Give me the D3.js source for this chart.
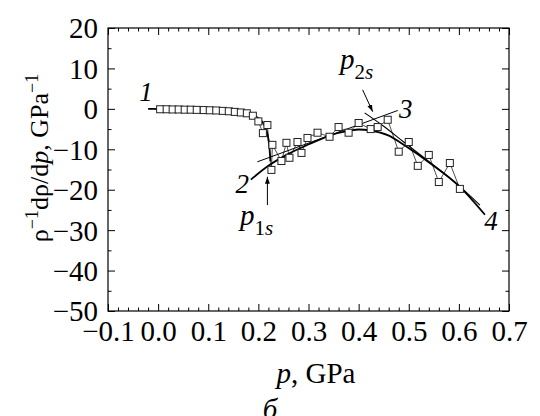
<!DOCTYPE html>
<html>
<head>
<meta charset="utf-8">
<script src="https://cdn.jsdelivr.net/npm/d3@7"></script>
<style>
  html, body { margin: 0; padding: 0; background: #fff; }
  svg { display: block; }
  text { font-family: "Liberation Serif", "Times New Roman", serif; fill: #000; }
</style>
</head>
<body>
<svg id="chart" width="540" height="416"></svg>
<script>
// ---- axis ticks ----
const xTicks = [-0.1, 0.0, 0.1, 0.2, 0.3, 0.4, 0.5, 0.6, 0.7];
const yTicks = [20, 10, 0, -10, -20, -30, -40, -50];

// ---- measured data, phase 1 (squares) ----
const dataP1 = [0.004, 0.017, 0.029, 0.041, 0.053, 0.065, 0.077, 0.091, 0.103, 0.116, 0.129, 0.141, 0.153, 0.165, 0.177, 0.189, 0.200, 0.209];
const dataV1 = [-0.1, -0.1, -0.15, -0.15, -0.2, -0.2, -0.25, -0.3, -0.35, -0.4, -0.5, -0.6, -0.75, -0.9, -1.1, -1.7, -3.1, -6.0];

// ---- measured data, phases 2/3 (squares) ----
const dataP2 = [0.218, 0.226, 0.228, 0.246, 0.256, 0.262, 0.278, 0.286, 0.298, 0.318, 0.342, 0.360, 0.380, 0.400, 0.424, 0.438, 0.458, 0.480, 0.500, 0.518, 0.540, 0.560, 0.582, 0.602];
const dataV2 = [-4.0, -15.1, -8.9, -12.9, -8.4, -12.1, -8.2, -10.9, -7.2, -5.9, -6.9, -4.5, -5.9, -3.5, -5.0, -4.5, -2.7, -10.6, -8.2, -14.1, -11.4, -18.1, -13.4, -19.8];

// ---- fitted curve 1 ----
const fit1P = [-0.02, 0.0, 0.05, 0.10, 0.14, 0.17, 0.19, 0.20, 0.21, 0.215, 0.219, 0.222, 0.224];
const fit1V = [0.0, -0.05, -0.15, -0.3, -0.55, -0.95, -1.6, -2.3, -3.6, -4.8, -6.8, -9.5, -13.0];

// ---- fitted curve 2 (thick, through 4) ----
const fit2P = [0.185, 0.222, 0.262, 0.302, 0.342, 0.382, 0.400, 0.422, 0.458, 0.496, 0.542, 0.602, 0.652];
const fit2V = [-17.5, -13.9, -11.0, -8.7, -6.6, -5.4, -5.1, -5.3, -6.5, -9.4, -13.4, -19.3, -26.2];

// ---- straight line 3 ----
const fit3P = [0.198, 0.478];
const fit3V = [-13.1, -0.4];

// ---- fitted curve 4 (thin) ----
const fit4P = [0.412, 0.45, 0.49, 0.54, 0.60, 0.642];
const fit4V = [-1.0, -4.3, -8.2, -13.0, -19.0, -23.8];

// ---- annotations ----
const curveLabels = ["1", "2", "3", "4"];
const curveLabelP = [-0.024, 0.168, 0.494, 0.664];
const curveLabelV = [2.0, -20.8, -2.2, -30.0];

const zip = (a, b) => a.map((d, i) => [d, b[i]]);

const svg = d3.select("#chart");
const L = 108, R = 509, T = 28, B = 311;
const x = d3.scaleLinear().domain([-0.1, 0.7]).range([L, R]);
const y = d3.scaleLinear().domain([-50, 20]).range([B, T]);

const xMinor = d3.range(-0.1, 0.7001, 0.02).map(v => +v.toFixed(3)).filter(v => !xTicks.some(t => Math.abs(t - v) < 1e-6));
const yMinor = d3.range(-50, 20.001, 5).filter(v => !yTicks.includes(v));

const tickFont = 29;
function styleAxis(g) {
  g.select(".domain").remove();
  g.selectAll(".tick line").attr("stroke", "#000").attr("stroke-width", 1);
}

// bottom
svg.append("g").attr("transform", `translate(0,${B})`)
  .call(d3.axisBottom(x).tickValues(xTicks).tickSize(-7).tickFormat(d => d3.format(".1f")(d).replace("-", "\u2212")))
  .call(styleAxis)
  .call(g => g.selectAll("text").attr("y", 30).attr("dy", 0).style("font-size", tickFont + "px"));
svg.append("g").attr("transform", `translate(0,${B})`)
  .call(d3.axisBottom(x).tickValues(xMinor).tickSize(-3.5).tickFormat(""))
  .call(styleAxis);
// top
svg.append("g").attr("transform", `translate(0,${T})`)
  .call(d3.axisTop(x).tickValues(xTicks).tickSize(-7).tickFormat(""))
  .call(styleAxis);
svg.append("g").attr("transform", `translate(0,${T})`)
  .call(d3.axisTop(x).tickValues(xMinor).tickSize(-3.5).tickFormat(""))
  .call(styleAxis);
// left
svg.append("g").attr("transform", `translate(${L},0)`)
  .call(d3.axisLeft(y).tickValues(yTicks).tickSize(-7).tickFormat(d => String(d).replace("-", "\u2212")))
  .call(styleAxis)
  .call(g => g.selectAll("text").attr("x", -10).attr("dy", "0.34em").style("font-size", tickFont + "px"));
svg.append("g").attr("transform", `translate(${L},0)`)
  .call(d3.axisLeft(y).tickValues(yMinor).tickSize(-3.5).tickFormat(""))
  .call(styleAxis);
// right
svg.append("g").attr("transform", `translate(${R},0)`)
  .call(d3.axisRight(y).tickValues(yTicks).tickSize(-7).tickFormat(""))
  .call(styleAxis);
svg.append("g").attr("transform", `translate(${R},0)`)
  .call(d3.axisRight(y).tickValues(yMinor).tickSize(-3.5).tickFormat(""))
  .call(styleAxis);

// frame
svg.append("rect").attr("x", L).attr("y", T).attr("width", R - L).attr("height", B - T)
  .attr("fill", "none").attr("stroke", "#000").attr("stroke-width", 1.2);

const line = d3.line().x(d => x(d[0])).y(d => y(d[1]));
const smooth = d3.line().x(d => x(d[0])).y(d => y(d[1])).curve(d3.curveMonotoneX);

// thin connecting line through all data
const allData = zip(dataP1, dataV1).concat(zip(dataP2, dataV2));
svg.append("path").attr("d", line(allData)).attr("fill", "none").attr("stroke", "#222").attr("stroke-width", 0.8);

// fitted curves
svg.append("path").attr("d", smooth(zip(fit1P, fit1V))).attr("fill", "none").attr("stroke", "#000").attr("stroke-width", 1.8);
svg.append("path").attr("d", smooth(zip(fit2P, fit2V))).attr("fill", "none").attr("stroke", "#000").attr("stroke-width", 1.8);
svg.append("path").attr("d", line(zip(fit3P, fit3V))).attr("fill", "none").attr("stroke", "#000").attr("stroke-width", 1);
svg.append("path").attr("d", smooth(zip(fit4P, fit4V))).attr("fill", "none").attr("stroke", "#000").attr("stroke-width", 1.1);

// squares
const sq = 7;
svg.append("g").selectAll("rect").data(allData).join("rect")
  .attr("x", d => x(d[0]) - sq / 2).attr("y", d => y(d[1]) - sq / 2)
  .attr("width", sq).attr("height", sq)
  .attr("fill", "#fff").attr("stroke", "#222").attr("stroke-width", 1);

// curve labels
svg.append("g").selectAll("text").data(curveLabels).join("text")
  .attr("x", (d, i) => x(curveLabelP[i])).attr("y", (d, i) => y(curveLabelV[i]))
  .attr("text-anchor", "middle").style("font-size", "27px").style("font-style", "italic")
  .text(d => d);

// arrows
const defs = svg.append("defs");
defs.append("marker").attr("id", "ah").attr("viewBox", "0 0 10 10").attr("refX", 10).attr("refY", 5)
  .attr("markerWidth", 7).attr("markerHeight", 7).attr("orient", "auto")
  .append("path").attr("d", "M0,1.5 L10,5 L0,8.5 Z").attr("fill", "#000");

svg.append("line").attr("x1", x(0.218)).attr("y1", y(-23.8)).attr("x2", x(0.218)).attr("y2", y(-16.8))
  .attr("stroke", "#000").attr("stroke-width", 1).attr("marker-end", "url(#ah)");
svg.append("line").attr("x1", x(0.408)).attr("y1", y(4.7)).attr("x2", x(0.428)).attr("y2", y(-0.7))
  .attr("stroke", "#000").attr("stroke-width", 1).attr("marker-end", "url(#ah)");

function pLabel(px, py, sub) {
  const t = svg.append("text").attr("x", px).attr("y", py).style("font-size", "29px");
  t.append("tspan").style("font-style", "italic").text("p");
  t.append("tspan").attr("dy", 10).style("font-size", "21px").text(sub);
  t.append("tspan").style("font-size", "21px").style("font-style", "italic").text("s");
}
pLabel(240, 225, "1");
pLabel(340, 69, "2");

// axis titles
const xt = svg.append("text").attr("x", 316).attr("y", 383).attr("text-anchor", "middle").style("font-size", "29px");
xt.append("tspan").style("font-style", "italic").text("p");
xt.append("tspan").text(", GPa");

const yt = svg.append("text").attr("transform", "translate(48,158) rotate(-90)").attr("text-anchor", "middle").style("font-size", "26px");
yt.append("tspan").text("\u03C1");
yt.append("tspan").attr("dy", -10).style("font-size", "18px").text("\u22121");
yt.append("tspan").attr("dy", 10).text("d\u03C1/d");
yt.append("tspan").style("font-style", "italic").text("p");
yt.append("tspan").text(", GPa");
yt.append("tspan").attr("dy", -10).style("font-size", "18px").text("\u22121");

// panel letter
svg.append("text").attr("x", 270).attr("y", 419).attr("text-anchor", "middle")
  .style("font-size", "29px").style("font-style", "italic").text("\u0431");
</script>
</body>
</html>
